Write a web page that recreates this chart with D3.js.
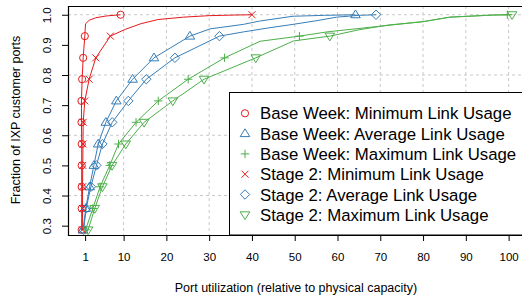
<!DOCTYPE html>
<html>
<head>
<meta charset="utf-8">
<script src="https://cdn.jsdelivr.net/npm/d3@7"></script>
<style>
  body { margin: 0; background: #fff; }
  text { font-family: "Liberation Sans", Arial, sans-serif; fill: #000; }
</style>
</head>
<body>
<script>
// CDF levels (fraction of IXP customer ports) at which markers are drawn
var levels = [0.286, 0.357, 0.429, 0.5, 0.571, 0.643, 0.714, 0.786, 0.857, 0.929, 1.0];

// port utilization at each level
var baseMin   = [0.2, 0.2, 0.2, 0.2, 0.2, 0.15, 0.15, 0.3, 0.55, 0.93, 9.3];
var baseAvg   = [0.5, 1.15, 2.05, 3.05, 4.05, 5.85, 8.3, 12.1, 17.1, 25.5, 64.2];
var baseMax   = [1.1, 2.8, 4.5, 6.75, 8.8, 12.9, 18.1, 25.1, 33.6, 51.1, 99.7];
var stage2Min = [0.35, 0.4, 0.4, 0.45, 0.5, 0.55, 0.93, 1.94, 3.5, 6.9, 40];
var stage2Avg = [0.65, 1.25, 2.35, 3.65, 5.05, 7.35, 11.1, 15.3, 22.0, 32.4, 69];
var stage2Max = [1.7, 3.25, 5.05, 7.3, 10.5, 14.8, 21.5, 28.8, 40.9, 58.2, 100.8];

// extra points of the curves between markers [utilization, fraction]
var baseMinTail   = [[1.1, 0.97], [2.0, 0.982], [3.5, 0.99], [6, 0.996]];
var baseAvgTail   = [[30.2, 0.953], [38, 0.968], [41.8, 0.979], [49.6, 0.995], [57, 0.998]];
var baseMaxTail   = [[41.9, 0.912], [57.5, 0.943], [70, 0.962], [80, 0.977], [86.3, 0.992], [96.4, 0.999]];
var stage2MinTail = [[10.3, 0.951], [14, 0.97], [18, 0.984], [24, 0.992], [30, 0.997], [36, 0.999]];
var stage2AvgTail = [[38, 0.943], [44.2, 0.957], [49.6, 0.968], [55, 0.98], [59.8, 0.992], [65, 0.998]];
var stage2MaxTail = [[49.7, 0.913], [65, 0.95], [72, 0.966], [80, 0.977], [86.3, 0.992], [96.4, 0.999]];

var seriesNames = ["Base Week: Minimum Link Usage", "Base Week: Average Link Usage",
  "Base Week: Maximum Link Usage", "Stage 2: Minimum Link Usage",
  "Stage 2: Average Link Usage", "Stage 2: Maximum Link Usage"];

var xTicks = [1, 10, 20, 30, 40, 50, 60, 70, 80, 90, 100];
var yTicks = [0.3, 0.4, 0.5, 0.6, 0.7, 0.8, 0.9, 1.0];
var xGrid = [10, 20, 30, 40, 50, 60, 70, 80, 90, 100];
var yGrid = [0.4, 0.6, 0.8, 1.0];

var red = "#E41A1C", blue = "#377EB8", green = "#4DAF4A";

var series = [
  {name: seriesNames[0], x: baseMin, tail: baseMinTail, color: red, pch: "circle"},
  {name: seriesNames[1], x: baseAvg, tail: baseAvgTail, color: blue, pch: "triangle"},
  {name: seriesNames[2], x: baseMax, tail: baseMaxTail, color: green, pch: "plus"},
  {name: seriesNames[3], x: stage2Min, tail: stage2MinTail, color: red, pch: "cross"},
  {name: seriesNames[4], x: stage2Avg, tail: stage2AvgTail, color: blue, pch: "diamond"},
  {name: seriesNames[5], x: stage2Max, tail: stage2MaxTail, color: green, pch: "down"}
];

var width = 522, height = 301;
var margin = {left: 68, top: 6, bottom: 235, right: 530};

var svg = d3.select("body").append("svg")
  .attr("width", width)
  .attr("height", height);

var x = d3.scaleLinear().domain([-3, 105]).range([margin.left, margin.right]);
var y = d3.scaleLinear().domain([0.269, 1.029]).range([margin.bottom, margin.top]);

svg.append("clipPath").attr("id", "plotclip")
  .append("rect")
  .attr("x", margin.left).attr("y", margin.top)
  .attr("width", margin.right - margin.left).attr("height", margin.bottom - margin.top);

// grid
svg.append("g").selectAll("line").data(xGrid).enter().append("line")
  .attr("x1", d => x(d)).attr("x2", d => x(d))
  .attr("y1", margin.top).attr("y2", margin.bottom)
  .attr("stroke", "#c8c8c8").attr("stroke-dasharray", "3,3");
svg.append("g").selectAll("line").data(yGrid).enter().append("line")
  .attr("x1", margin.left).attr("x2", width)
  .attr("y1", d => y(d)).attr("y2", d => y(d))
  .attr("stroke", "#c8c8c8").attr("stroke-dasharray", "3,3");

// marker shapes
function marker(pch) {
  var s = 4.2;
  switch (pch) {
    case "circle": return d3.arc()({innerRadius: 0, outerRadius: 3.6, startAngle: 0, endAngle: 2 * Math.PI});
    case "triangle": return "M0," + (-s - 0.6) + "L" + (s + 0.6) + "," + (s - 1.2) + "L" + (-s - 0.6) + "," + (s - 1.2) + "Z";
    case "down": return "M0," + (s + 0.6) + "L" + (s + 0.6) + "," + (-s + 1.2) + "L" + (-s - 0.6) + "," + (-s + 1.2) + "Z";
    case "plus": return "M" + (-s) + ",0H" + s + "M0," + (-s) + "V" + s;
    case "cross": return "M-3.5,-3.5L3.5,3.5M-3.5,3.5L3.5,-3.5";
    case "diamond": return "M0," + (-s - 0.5) + "L" + (s + 0.5) + ",0L0," + (s + 0.5) + "L" + (-s - 0.5) + ",0Z";
  }
}

var lineFun = d3.line()
  .x(function(d){ return x(d[0]); })
  .y(function(d){ return y(d[1]); });

var plot = svg.append("g").attr("clip-path", "url(#plotclip)");

series.forEach(function(s) {
  var pts = s.x.map(function(v, i){ return [v, levels[i]]; });
  var linePts = pts.concat(s.tail).sort(function(a, b){ return a[1] - b[1]; });

  plot.append("path")
    .datum(linePts)
    .attr("d", lineFun)
    .attr("fill", "none")
    .attr("stroke", s.color)
    .attr("stroke-width", 1);

  plot.selectAll(null).data(pts).enter().append("path")
    .attr("transform", function(d){ return "translate(" + x(d[0]) + "," + y(d[1]) + ")"; })
    .attr("d", marker(s.pch))
    .attr("fill", "none")
    .attr("stroke", s.color)
    .attr("stroke-width", 1);
});

// box
svg.append("path")
  .attr("d", "M" + width + "," + (margin.top + 0.5) + "H" + (margin.left + 0.5) + "V" + (margin.bottom + 0.5) + "H" + width)
  .attr("fill", "none").attr("stroke", "#000").attr("stroke-width", 1.2);

// x axis
var xAxis = svg.append("g")
  .attr("transform", "translate(0," + margin.bottom + ")")
  .call(d3.axisBottom(x).tickValues(xTicks).tickSize(6).tickPadding(12).tickFormat(d3.format("d")));
xAxis.select(".domain").remove();
xAxis.selectAll("text").style("font-size", "11.5px").attr("fill", "#000");
xAxis.selectAll("line").attr("stroke", "#000");

// y axis
var yAxis = svg.append("g")
  .attr("transform", "translate(" + margin.left + ",0)")
  .call(d3.axisLeft(y).tickValues(yTicks).tickSize(6).tickFormat(d3.format(".1f")));
yAxis.select(".domain").remove();
yAxis.selectAll("line").attr("stroke", "#000");
yAxis.selectAll("text")
  .attr("x", null).attr("dy", null)
  .attr("transform", "translate(-17,0) rotate(-90)")
  .attr("text-anchor", "middle")
  .style("font-size", "11.5px").attr("fill", "#000");

// axis titles
svg.append("text")
  .attr("x", 296).attr("y", 292)
  .attr("text-anchor", "middle")
  .style("font-size", "12.5px")
  .text("Port utilization (relative to physical capacity)");
svg.append("text")
  .attr("transform", "translate(20,120) rotate(-90)")
  .attr("text-anchor", "middle")
  .style("font-size", "12.5px")
  .text("Fraction of IXP customer ports");

// legend
var legend = svg.append("g");
legend.append("rect")
  .attr("x", 229.5).attr("y", 92.5)
  .attr("width", 400).attr("height", margin.bottom - 92.5)
  .attr("fill", "#fff").attr("stroke", "#000");

var rows = legend.selectAll("g.row").data(series).enter().append("g")
  .attr("class", "row")
  .attr("transform", function(d, i){ return "translate(0," + (113.3 + i * 20.3) + ")"; });
rows.append("path")
  .attr("transform", "translate(245,0)")
  .attr("d", function(d){ return marker(d.pch); })
  .attr("fill", "none")
  .attr("stroke", function(d){ return d.color; });
rows.append("text")
  .attr("x", 260).attr("dy", "0.36em")
  .style("font-size", "16.8px")
  .text(function(d){ return d.name; });
</script>
</body>
</html>
